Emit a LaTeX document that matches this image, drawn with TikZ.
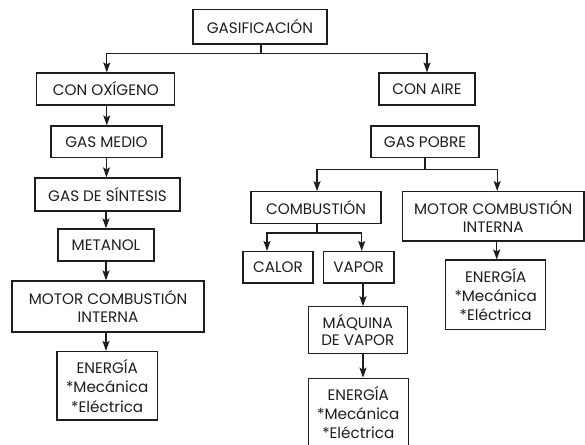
\documentclass[tikz,border=0pt]{standalone}
\usepackage{fontspec}
\setmainfont{Poppins}
\usetikzlibrary{arrows.meta}
\definecolor{ink}{HTML}{1E1E1E}
\begin{document}
\begin{tikzpicture}[x=1pt,y=-1pt,
  box/.style={draw=ink,line width=1.2pt,inner sep=0pt,align=center,text=ink,
    font=\fontsize{15.2}{17.5}\selectfont},
  ebox/.style={box,font=\fontsize{15.2}{19.3}\selectfont},
  arr/.style={draw=ink,line width=1.2pt,-{Stealth[length=10pt,width=7pt,inset=2pt]}},
  ln/.style={draw=ink,line width=1.2pt}]
\useasboundingbox (0,0) rectangle (585,444);
\fill[white] (0,0) rectangle (585,444);
% left column
\node[box,minimum width=134pt,minimum height=34.5pt] (gasif) at (260,26.75) {GASIFICACIÓN};
\node[box,minimum width=138pt,minimum height=32pt] (oxi) at (105.8,89) {CON OXÍGENO};
\node[box,minimum width=96pt,minimum height=32pt] (aire) at (427,89) {CON AIRE};
\node[box,minimum width=111pt,minimum height=31.5pt] (medio) at (106.5,141.75) {GAS MEDIO};
\node[box,minimum width=108pt,minimum height=31.5pt] (pobre) at (425,141.75) {GAS POBRE};
\node[box,minimum width=145pt,minimum height=33pt] (sint) at (107.5,194.5) {GAS DE SÍNTESIS};
\node[box,minimum width=96pt,minimum height=32pt] (meta) at (106,245) {METANOL};
\node[box,minimum width=192pt,minimum height=51pt] (motorL) at (108,306.5) {MOTOR COMBUSTIÓN\\INTERNA};
\node[ebox,minimum width=100.5pt,minimum height=68.5pt] (enerL) at (107.25,385.75) {ENERGÍA\\*Mecánica\\*Eléctrica};
% right column
\node[box,minimum width=130pt,minimum height=31.6pt] (comb) at (316,207.5) {COMBUSTIÓN};
\node[box,minimum width=70pt,minimum height=31.5pt] (calor) at (278,267.3) {CALOR};
\node[box,minimum width=70.7pt,minimum height=31.5pt] (vapor) at (358.7,267.3) {VAPOR};
\node[box,minimum width=99pt,minimum height=46.5pt] (maq) at (357.8,330) {MÁQUINA\\DE VAPOR};
\node[ebox,minimum width=100pt,minimum height=68.5pt] (enerM) at (358.3,412.5) {ENERGÍA\\*Mecánica\\*Eléctrica};
\node[box,minimum width=181.7pt,minimum height=49.3pt] (motorR) at (493.2,216.3) {MOTOR COMBUSTIÓN\\INTERNA};
\node[ebox,minimum width=100pt,minimum height=69.3pt] (enerR) at (495.7,294.7) {ENERGÍA\\*Mecánica\\*Eléctrica};
% connectors
\draw[arr] ([xshift=1pt]gasif.south) -- ++(0,8.7) -| ([xshift=1pt]oxi.north);
\draw[arr] ([xshift=1pt]gasif.south) -- ++(0,8.7) -| (aire.north);
\draw[arr] ([xshift=1pt]oxi.south) -- ([xshift=1pt]oxi.south |- medio.north);
\draw[arr] (medio.south) -- (medio.south |- sint.north);
\draw[arr] (meta.north |- sint.south) -- (meta.north);
\draw[arr] (meta.south) -- (meta.south |- motorL.north);
\draw[arr] ([xshift=-2pt]motorL.south) -- ([xshift=-2pt]motorL.south |- enerL.north);
\draw[arr] (pobre.south) -- ++(0,11) -| ([xshift=1pt]comb.north);
\draw[arr] (pobre.south) -- ++(0,11) -| ([xshift=4pt]motorR.north);
\draw[arr] ([xshift=1pt]comb.south) -- ++(0,9) -| ([xshift=-11pt]calor.north);
\draw[arr] ([xshift=1pt]comb.south) -- ++(0,9) -| ([xshift=3pt]vapor.north);
\draw[arr] ([xshift=4.3pt]vapor.south) -- ([xshift=4.3pt]vapor.south |- maq.north);
\draw[arr] ([xshift=5.2pt]maq.south) -- ([xshift=5.2pt]maq.south |- enerM.north);
\draw[arr] ([xshift=3.5pt]motorR.south) -- ([xshift=3.5pt]motorR.south |- enerR.north);
\end{tikzpicture}
\end{document}
